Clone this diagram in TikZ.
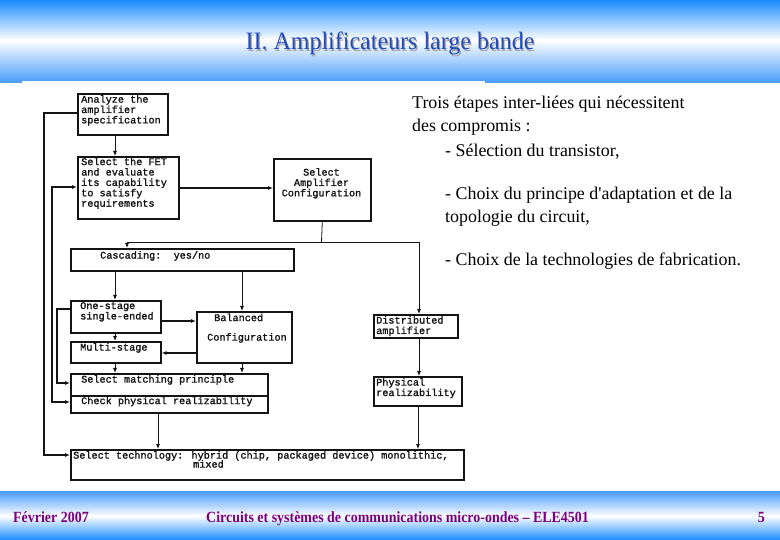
\documentclass[tikz,border=0pt]{standalone}
\usepackage{fontspec}
\setmainfont{Liberation Serif}
\newfontfamily\titlefont[FakeStretch=0.96]{Liberation Serif}
\newfontfamily\footfont[FakeStretch=0.9]{Liberation Serif}
\newfontfamily\boxmono[FakeBold=1.6]{Liberation Mono}
\usetikzlibrary{arrows.meta}
\definecolor{hdrblue}{RGB}{25,140,255}
\definecolor{hdrblue2}{RGB}{70,155,250}
\definecolor{titleblue}{RGB}{35,75,190}
\definecolor{footpurple}{RGB}{125,0,125}
\definecolor{ink}{RGB}{20,20,20}
\tikzset{
  box/.style={draw=ink, line width=1.6pt, rectangle, inner sep=0pt, anchor=north west},
  boxtxt/.style={font=\boxmono\fontsize{10.2}{10.4}\selectfont, text=ink, inner sep=0pt, align=left, anchor=north west},
  thin/.style={draw=ink, line width=0.8pt},
  thick/.style={draw=ink, line width=1.6pt},
  tip/.style={-{Latex[length=5pt,width=4pt]}},
  bitip/.style={{Latex[length=5pt,width=4pt]}-{Latex[length=5pt,width=4pt]}},
  rtext/.style={font=\fontsize{17.9}{20}\selectfont, anchor=base west, inner sep=0pt},
  foot/.style={font=\footfont\bfseries\fontsize{15.5}{17}\selectfont, text=footpurple, anchor=base, inner sep=0pt}
}
\begin{document}
\begin{tikzpicture}[x=1pt,y=1pt]
\useasboundingbox (0,0) rectangle (780,-540);
% header band
\shade[top color=hdrblue, bottom color=white] (0,0) rectangle (780,-40);
\shade[top color=white, bottom color=hdrblue2] (0,-40) rectangle (780,-83);
% footer band
\shade[top color=hdrblue2, bottom color=white] (0,-491) rectangle (780,-516);
\shade[top color=white, bottom color=hdrblue] (0,-516) rectangle (780,-540);
% white diagram area
\fill[white] (22,-81) rectangle (485,-490);
% title
\node[font=\titlefont\fontsize{25}{28}\selectfont, text=black!35, anchor=base, inner sep=0pt] (titleshadow) at (391.2,-51.2) {II. Amplificateurs large bande};
\node[font=\titlefont\fontsize{25}{28}\selectfont, text=titleblue, anchor=base, inner sep=0pt] (title) at (390,-50) {II. Amplificateurs large bande};
% footer
\node[foot, anchor=base west] (fdate) at (13,-522) {Février 2007};
\node[foot, anchor=base west] (fcourse) at (206,-522) {Circuits et systèmes de communications micro-ondes – ELE4501};
\node[foot, anchor=base east] (fpage) at (765,-522) {5};
% right text
\node[rtext] (t1) at (412,-109) {Trois étapes inter-liées qui nécessitent};
\node[rtext] (t2) at (412,-132) {des compromis :};
\node[rtext] (t3) at (445,-157) {- Sélection du transistor,};
\node[rtext] (t4) at (445,-200) {- Choix du principe d\textquotesingle adaptation et de la};
\node[rtext] (t5) at (445,-223) {topologie du circuit,};
\node[rtext] (t6) at (445,-266) {- Choix de la technologies de fabrication.};
% boxes
\node[box, minimum width=90, minimum height=41] (b1) at (77,-93) {};
\node[box, minimum width=101, minimum height=62] (b2) at (77,-156) {};
\node[box, minimum width=97, minimum height=62] (b3) at (273,-158) {};
\node[box, minimum width=223, minimum height=22] (b4) at (70,-248) {};
\node[box, minimum width=90, minimum height=32] (b5) at (70,-300) {};
\node[box, minimum width=95, minimum height=51] (b6) at (196,-311) {};
\node[box, minimum width=90, minimum height=21] (b7) at (70,-341) {};
\node[box, minimum width=197, minimum height=22] (b8a) at (70,-373) {};
\node[box, minimum width=197, minimum height=17] (b8b) at (70,-395) {};
\node[box, minimum width=84, minimum height=23] (b9) at (373,-314) {};
\node[box, minimum width=88, minimum height=29] (b10) at (373,-376) {};
\node[box, minimum width=393, minimum height=30] (b11) at (70,-449) {};
% box texts
\node[boxtxt] (l1) at (81,-95) {Analyze the\\amplifier\\specification};
\node[boxtxt] (l2) at (81,-157.5) {Select the FET\\and evaluate\\its capability\\to satisfy\\requirements};
\node[boxtxt, align=center, anchor=north] (l3) at (321.5,-168) {Select\\Amplifier\\Configuration};
\node[boxtxt] (l4) at (100,-251) {Cascading:~~yes/no};
\node[boxtxt] (l5) at (80,-302) {One-stage\\single-ended};
\node[boxtxt] (l6a) at (214,-313.5) {Balanced};
\node[boxtxt] (l6b) at (207,-333) {Configuration};
\node[boxtxt] (l7) at (80,-343) {Multi-stage};
\node[boxtxt] (l8a) at (81,-375) {Select matching principle};
\node[boxtxt] (l8b) at (81,-396.5) {Check physical realizability};
\node[boxtxt] (l9) at (376,-316) {Distributed\\amplifier};
\node[boxtxt] (l10) at (376,-378) {Physical\\realizability};
\node[boxtxt] (l11a) at (73,-451) {Select technology: hybrid (chip, packaged device) monolithic,};
\node[boxtxt] (l11b) at (193,-460) {mixed};
% junction coordinates
\coordinate (jc) at (321.5,-242);
\coordinate (jl) at (127,-242);
\coordinate (jr) at (419,-242);
% connectors
\draw[thin, tip] (115,0 |- b1.south) -- (115,0 |- b2.north);
\draw[thick, tip] (b2.east |- 0,-188) -- (b3.west |- 0,-188);
\draw[thin] (b3.south) -- (jc);
\draw[thin] (jl) -- (jr);
\draw[thin, tip] (jl) -- (127,0 |- b4.north);
\draw[thin, tip] (jr) -- (419,0 |- b9.north);
\draw[thin, tip] (115,0 |- b4.south) -- (115,0 |- b5.north);
\draw[thin, tip] (242,0 |- b4.south) -- (242,0 |- b6.north);
\draw[thick, tip] (b5.east |- 0,-321) -- (b6.west |- 0,-321);
\draw[thick, tip] (b6.west |- 0,-353) -- (b7.east |- 0,-353);
\draw[thin, tip] (115,0 |- b5.south) -- (115,0 |- b7.north);
\draw[thin, tip] (115,0 |- b7.south) -- (115,0 |- b8a.north);
\draw[thin, tip] (242,0 |- b6.south) -- (242,0 |- b8a.north);
\draw[thin, tip] (158,0 |- b8b.south) -- (158,0 |- b11.north);
\draw[thin, tip] (419,0 |- b9.south) -- (419,0 |- b10.north);
\draw[thin, tip] (418,0 |- b10.south) -- (418,0 |- b11.north);
% left feedback lines
\draw[thick, line width=1.2pt, tip] (b1.west |- 0,-113) -- (44,-113) -- (44,-455) -- (b11.west |- 0,-455);
\draw[thick, line width=1.2pt, bitip] (b2.west |- 0,-187) -- (52,-187) -- (52,-402) -- (b8b.west |- 0,-402);
\draw[thick, line width=1.2pt, tip] (b5.west |- 0,-309) -- (57,-309) -- (57,-383) -- (b8a.west |- 0,-383);
\end{tikzpicture}
\end{document}
